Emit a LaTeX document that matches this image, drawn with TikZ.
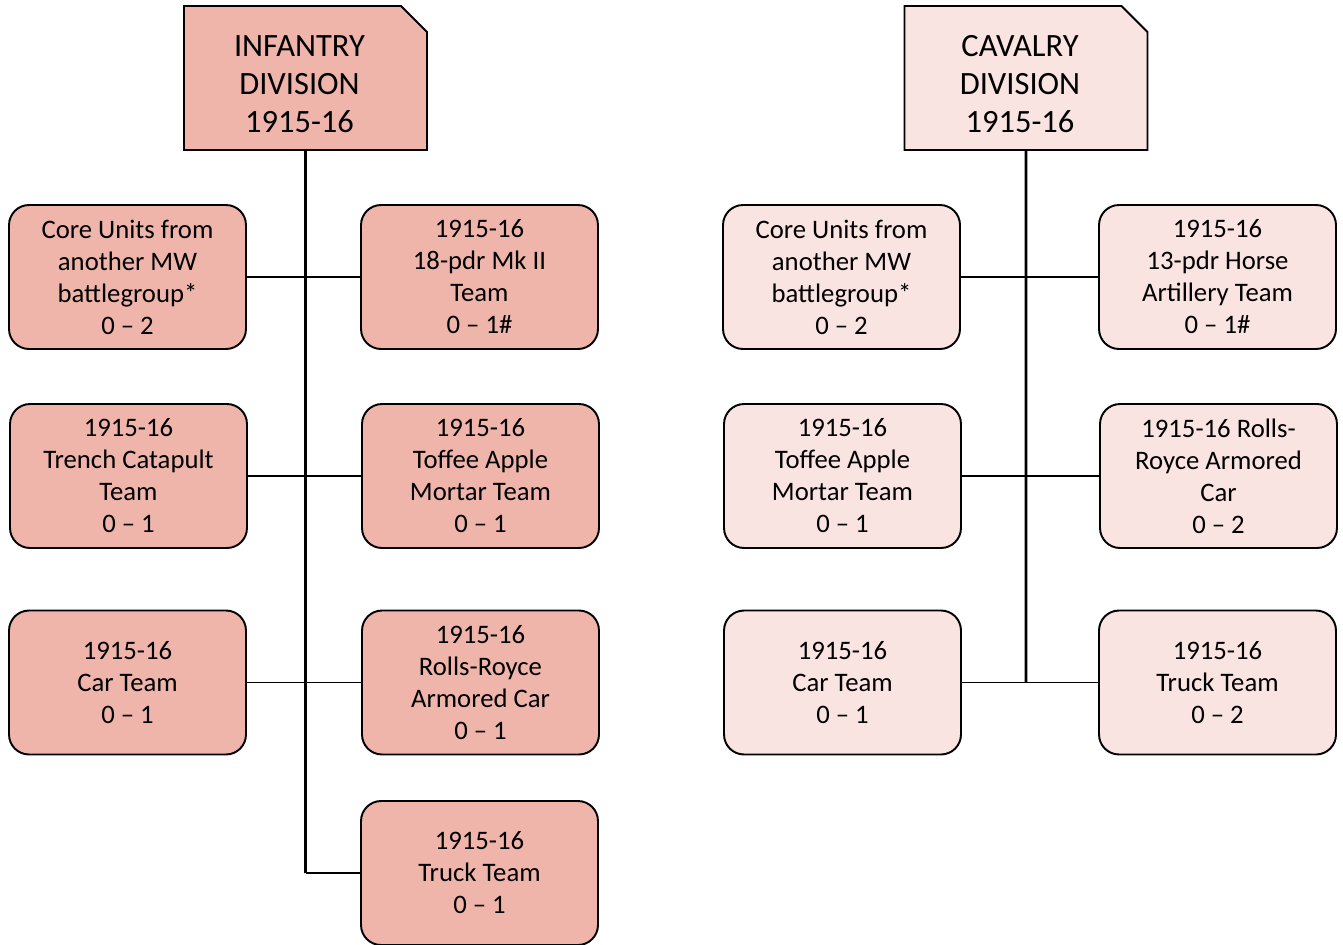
\documentclass[tikz,border=0pt]{standalone}
\usepackage{fontspec}
\setmainfont{Carlito}
\usetikzlibrary{positioning}
\usetikzlibrary{shapes.misc}
\definecolor{infantry}{HTML}{EFB5AB}
\definecolor{cavalry}{HTML}{FAE4E1}
% header text: lowered and pulled left of the folded corner
\newcommand{\divtext}[3]{\renewcommand{\arraystretch}{0}\begin{tabular}{@{}c@{\hspace{0.24cm}}}\rule[-6.5pt]{0pt}{25.5pt}#1\\\rule[-6.5pt]{0pt}{21.7pt}#2\\\rule{0pt}{15.2pt}#3\end{tabular}}

\begin{document}
\begin{tikzpicture}[x=0.02cm,y=-0.02cm]
  \useasboundingbox (0,0) rectangle (1343,944);
  \tikzstyle{every node}=[draw, line width=1.1pt, align=center, inner sep=0pt, font=\fontsize{15.2}{18.2}\selectfont]
  \tikzstyle{division}=[chamfered rectangle, chamfered rectangle corners=north east, chamfered rectangle sep=0.26cm, minimum width=4.86cm, minimum height=2.88cm, font=\fontsize{18.5}{21.7}\selectfont]
  \tikzstyle{unit}=[rectangle, rounded corners=0.4cm, minimum width=4.74cm, minimum height=2.88cm]
  % infantry
  \draw (305.5,78) node (inf_div) [division, fill=infantry] {\divtext{INFANTRY}{DIVISION}{1915-16}};
  \draw (127.5,277) node (inf_core) [unit, fill=infantry] {Core Units from\\another MW\\battlegroup*\\0 – 2};
  \draw (479.5,277) node (inf_18pdr) [unit, fill=infantry] {1915-16\\18-pdr Mk II\\Team\\0 – 1\#};
  \draw (128.5,476) node (inf_catapult) [unit, fill=infantry] {1915-16\\Trench Catapult\\Team\\0 – 1};
  \draw (480.5,476) node (inf_mortar) [unit, fill=infantry] {1915-16\\Toffee Apple\\Mortar Team\\0 – 1};
  \draw (127.5,682.5) node (inf_car) [unit, fill=infantry] {1915-16\\Car Team\\0 – 1};
  \draw (480.5,682.5) node (inf_armored) [unit, fill=infantry] {1915-16\\Rolls-Royce\\Armored Car\\0 – 1};
  \draw (479.5,873) node (inf_truck) [unit, fill=infantry] {1915-16\\Truck Team\\0 – 1};
  % cavalry
  \draw (1026,78) node (cav_div) [division, fill=cavalry] {\divtext{CAVALRY}{DIVISION}{1915-16}};
  \draw (841.5,277) node (cav_core) [unit, fill=cavalry] {Core Units from\\another MW\\battlegroup*\\0 – 2};
  \draw (1217.5,277) node (cav_13pdr) [unit, fill=cavalry] {1915-16\\13-pdr Horse\\Artillery Team\\0 – 1\#};
  \draw (842.5,476) node (cav_mortar) [unit, fill=cavalry] {1915-16\\Toffee Apple\\Mortar Team\\0 – 1};
  \draw (1218.5,476) node (cav_armored) [unit, fill=cavalry] {1915-16 Rolls-\\Royce Armored\\Car\\0 – 2};
  \draw (842.5,682.5) node (cav_car) [unit, fill=cavalry] {1915-16\\Car Team\\0 – 1};
  \draw (1217.5,682.5) node (cav_truck) [unit, fill=cavalry] {1915-16\\Truck Team\\0 – 2};
  \coordinate (inf_end) at (305.5,873);
  \coordinate (cav_end) at (1026,682.5);
  \tikzstyle{every path}=[line width=1.1pt]
  \draw [line width=1.6pt] (inf_div) -- (inf_end);
  \draw (inf_core) -- (inf_18pdr);
  \draw (inf_catapult) -- (inf_mortar);
  \draw (inf_car) -- (inf_armored);
  \draw (inf_end) -- (inf_truck);
  \draw [line width=1.6pt] (cav_div) -- (cav_end);
  \draw (cav_core) -- (cav_13pdr);
  \draw (cav_mortar) -- (cav_armored);
  \draw (cav_car) -- (cav_truck);
\end{tikzpicture}
\end{document}
